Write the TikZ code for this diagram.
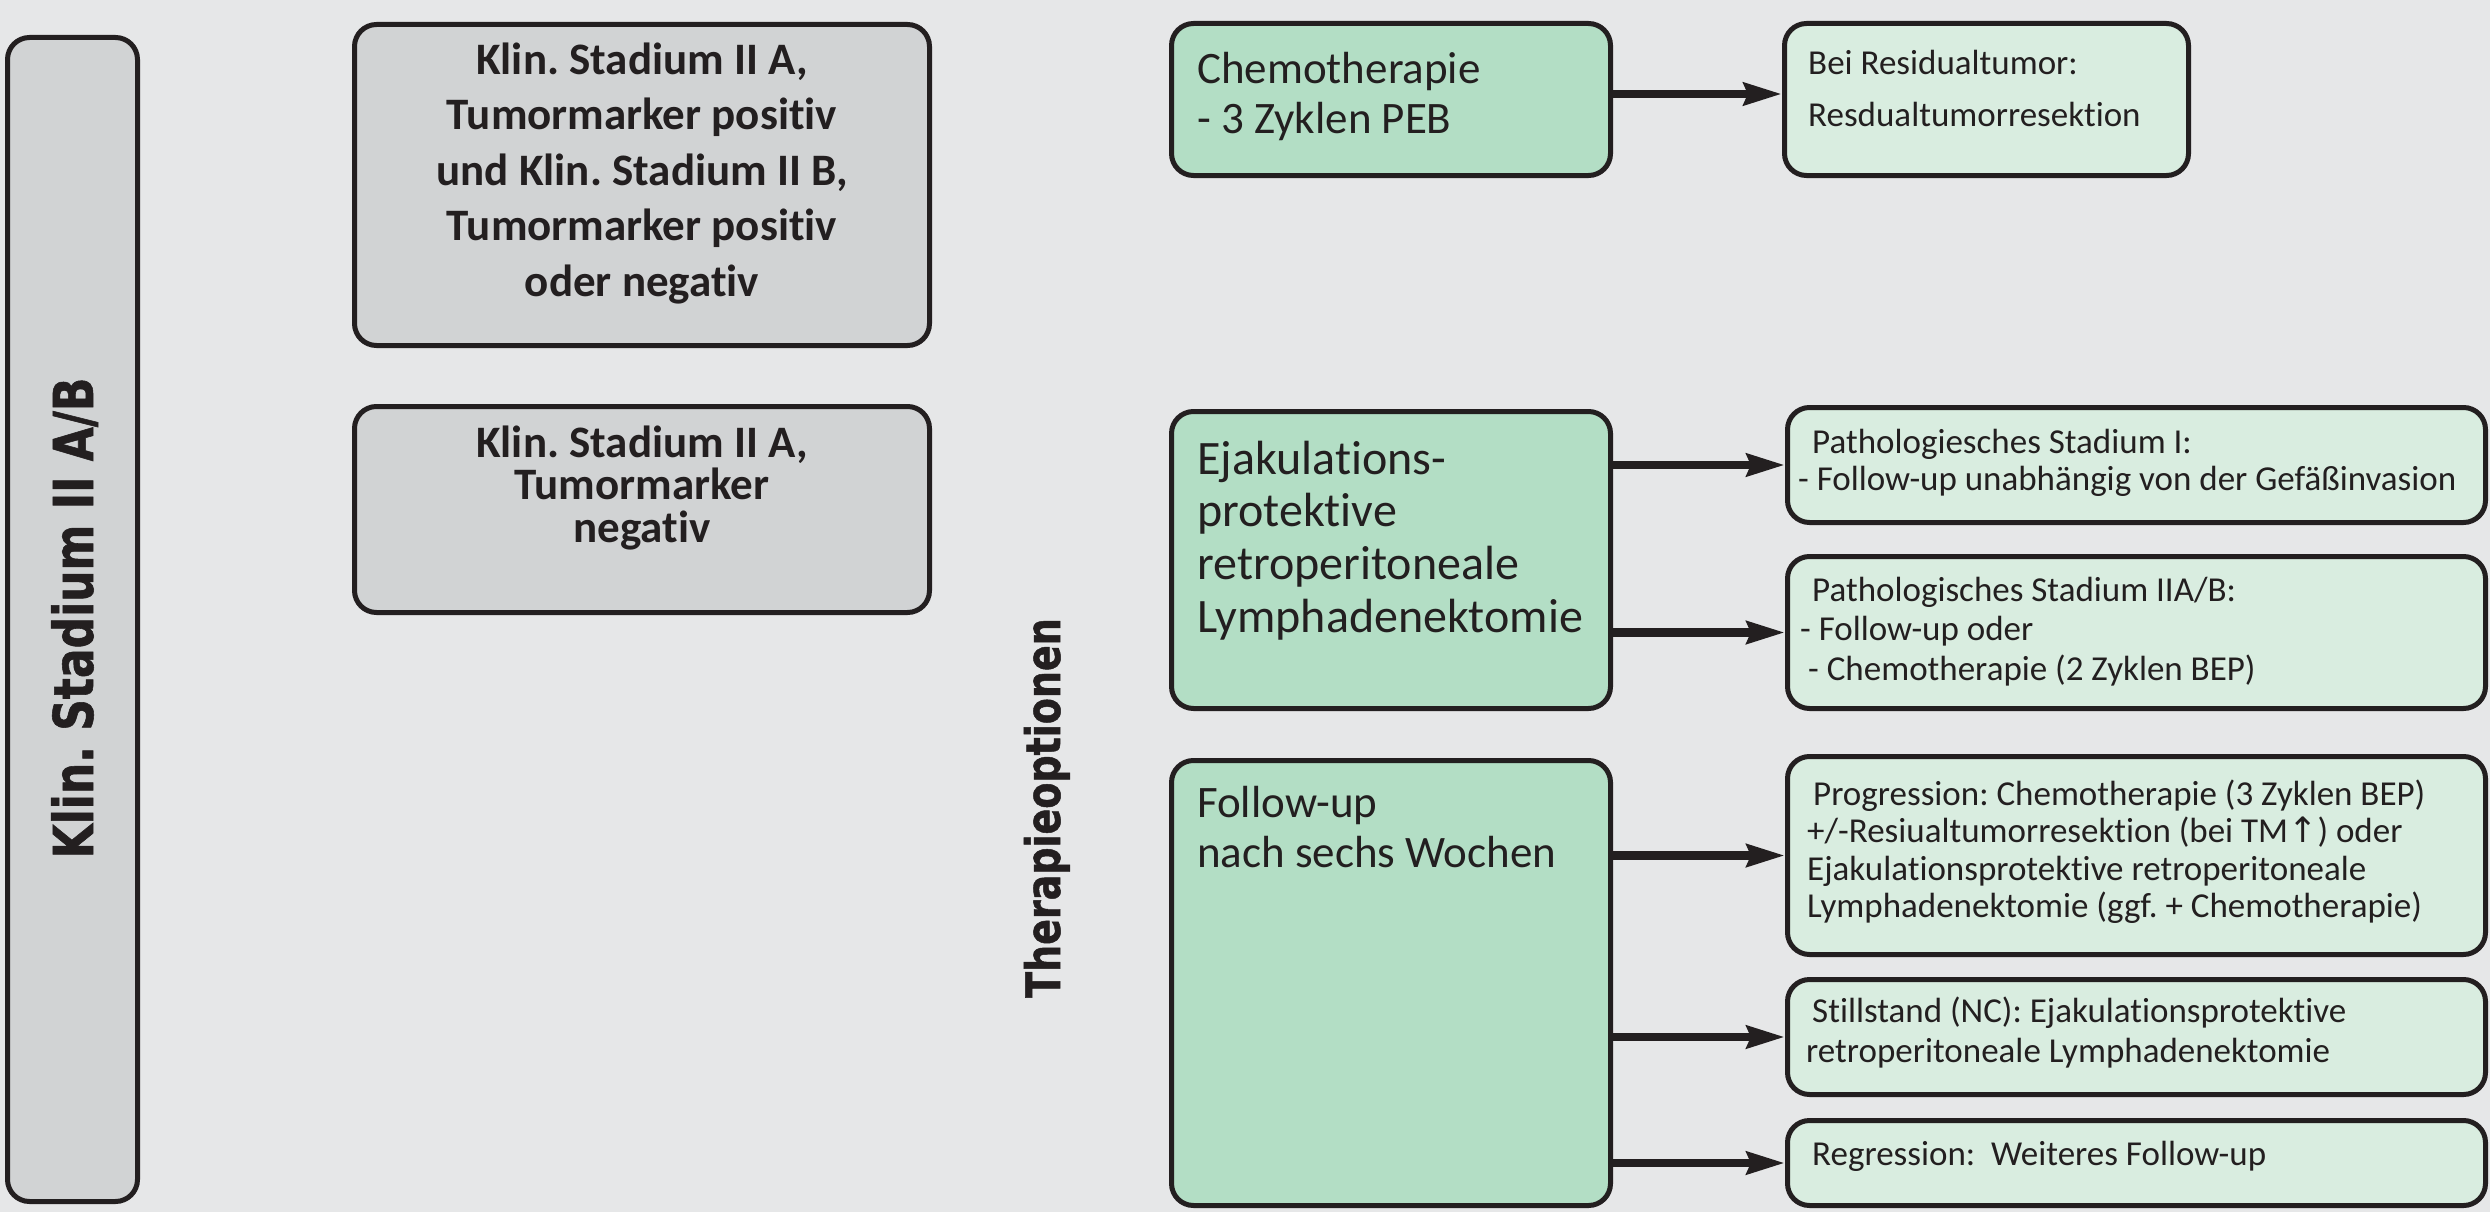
\documentclass[tikz,border=0pt]{standalone}
\usepackage{fontspec}
\setmainfont{Carlito}[Ligatures=CommonOff]
\newfontfamily\vfont{DejaVu Sans}[FakeStretch=0.8, FakeBold=1]
\newfontfamily\arrfont{DejaVu Sans}
\usetikzlibrary{arrows.meta}
\definecolor{bgc}{HTML}{E6E7E8}
\definecolor{grayfill}{HTML}{D1D3D4}
\definecolor{greendark}{HTML}{B3DEC5}
\definecolor{greenlight}{HTML}{D9EDE0}
\definecolor{ink}{HTML}{231F20}
\newcommand\fls{\rule{0pt}{1em}}
\frenchspacing
\begin{document}
\begin{tikzpicture}[x=1pt,y=-1pt,
  box/.style={draw=ink, line width=5pt, rounded corners=22pt, inner sep=0pt, anchor=north west},
  graybox/.style={box, fill=grayfill},
  darkbox/.style={box, fill=greendark},
  lightbox/.style={box, fill=greenlight},
  txt/.style={inner sep=0pt, anchor=north west, align=left, text=ink},
  gtxt/.style={inner sep=0pt, anchor=north, align=center, text=ink, font=\fontsize{45}{55.5}\selectfont\bfseries},
  bigtxt/.style={txt, font=\fontsize{45}{50}\selectfont},
  smalltxt/.style={txt, font=\fontsize{35}{39.5}\selectfont},
  vlabel/.style={inner sep=0pt, anchor=base, rotate=90, text=ink},
  arr/.style={draw=ink, line width=8.5pt, -{Stealth[length=38pt, width=22pt, inset=4pt]}}
]
\fill[bgc] (0,0) rectangle (2490,1212);
\useasboundingbox (0,0) rectangle (2490,1212);

% left bar
\node[graybox, minimum width=130pt, minimum height=1164pt] (bar) at (5,35) {};
\node[vlabel, font=\vfont\bfseries\fontsize{55}{60}\selectfont] (barT) at (93,618) {Klin. Stadium II A/B};

% gray boxes
\node[graybox, minimum width=575pt, minimum height=321pt] (g1) at (352,22) {};
\node[gtxt] (g1T) at (642,29) {\fls Klin. Stadium II A,\\Tumormarker positiv\\und Klin. Stadium II B,\\Tumormarker positiv\\oder negativ};
\node[graybox, minimum width=575pt, minimum height=206pt] (g2) at (352,404) {};
\node[gtxt, font=\fontsize{45}{42.5}\selectfont\bfseries] (g2T) at (642,412) {\fls Klin. Stadium II A,\\Tumormarker\\negativ};

% Therapieoptionen
\node[vlabel, font=\vfont\bfseries\fontsize{47.5}{52}\selectfont] (ther) at (1060,808) {Therapieoptionen};

% main option boxes
\node[darkbox, minimum width=439pt, minimum height=152pt] (chemo) at (1169,21) {};
\node[bigtxt] (chemoT) at (1197,38) {\fls Chemotherapie\\- 3 Zyklen PEB};
\node[darkbox, minimum width=439pt, minimum height=297pt] (ejak) at (1169,409) {};
\node[txt, font=\fontsize{48}{52.7}\selectfont] (ejakT) at (1197,426) {\fls Ejakulations-\\protektive\\retroperitoneale\\Lymphadenektomie};
\node[darkbox, minimum width=439pt, minimum height=445pt] (follow) at (1169,758) {};
\node[bigtxt] (followT) at (1197,772) {\fls Follow-up\\nach sechs Wochen};

% result boxes
\node[lightbox, minimum width=404pt, minimum height=152pt] (bei) at (1782,21) {};
\node[smalltxt, font=\fontsize{35}{52}\selectfont] (beiT) at (1808,39) {\fls Bei Residualtumor:\\Resdualtumorresektion};

\node[lightbox, minimum width=698pt, minimum height=115pt] (p1) at (1785,405) {};
\node[smalltxt, font=\fontsize{35}{37.5}\selectfont] (p1T) at (1798,418) {\fls\hspace{14pt}Pathologiesches Stadium I:\\- Follow-up unabhängig von der Gefäßinvasion};
\node[lightbox, minimum width=698pt, minimum height=152pt] (p2) at (1785,554) {};
\node[smalltxt] (p2T) at (1800,566) {\fls\hspace{12pt}Pathologisches Stadium IIA/B:\\- Follow-up oder\\\hspace{8pt}- Chemotherapie (2 Zyklen BEP)};

\node[lightbox, minimum width=698pt, minimum height=198pt] (prog) at (1785,754) {};
\node[smalltxt, font=\fontsize{35}{37.5}\selectfont] (progT) at (1807,770) {\fls\hspace{6pt}Progression: Chemotherapie (3 Zyklen BEP)\\+/-Resiualtumorresektion (bei TM{\arrfont ↑}) oder\\Ejakulationsprotektive retroperitoneale\\Lymphadenektomie (ggf. + Chemotherapie)};
\node[lightbox, minimum width=698pt, minimum height=115pt] (still) at (1785,977) {};
\node[smalltxt, font=\fontsize{35}{40}\selectfont] (stillT) at (1806,987) {\fls\hspace{6pt}Stillstand (NC): Ejakulationsprotektive\\retroperitoneale Lymphadenektomie};
\node[lightbox, minimum width=698pt, minimum height=85pt] (regr) at (1785,1118) {};
\node[smalltxt] (regrT) at (1812,1130) {\fls Regression:\ \ Weiteres Follow-up};

% connectors
\draw[arr] (chemo.east |- 0,94) -- (bei.west |- 0,94);
\draw[arr] (ejak.east |- p1.west) -- (p1.west);
\draw[arr] (ejak.east |- p2.west) -- (p2.west);
\draw[arr] (follow.east |- prog.west) -- (prog.west);
\draw[arr] (follow.east |- still.west) -- (still.west);
\draw[arr] (follow.east |- regr.west) -- (regr.west);
\end{tikzpicture}
\end{document}
